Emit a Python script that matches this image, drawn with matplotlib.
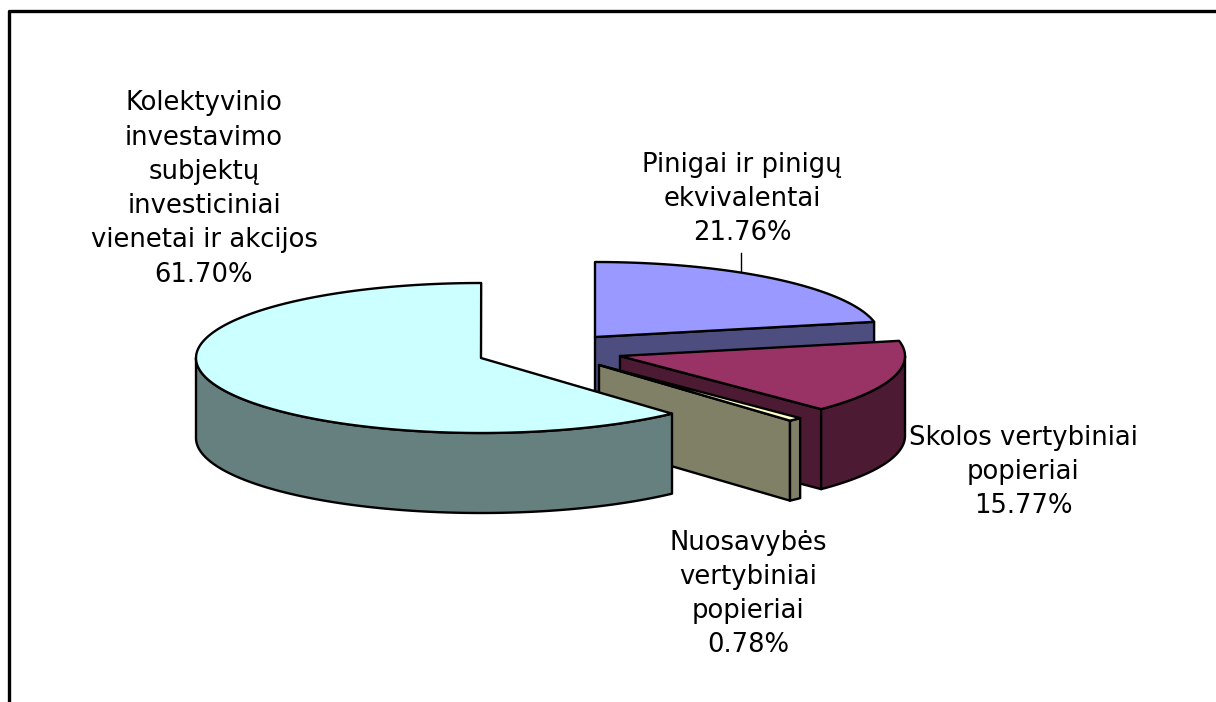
import numpy as np
import matplotlib
matplotlib.use("Agg")
from matplotlib import pyplot as plt
from matplotlib.patches import Polygon

# shares, clockwise from 12 o'clock
names = ["Pinigai ir pinigų\nekvivalentai", "Skolos vertybiniai\npopieriai",
         "Nuosavybės\nvertybiniai\npopieriai",
         "Kolektyvinio\ninvestavimo\nsubjektų\ninvesticiniai\nvienetai ir akcijos"]
shares = [21.76, 15.77, 0.78, 61.70]
top_colors = ["#9999ff", "#993366", "#ffffcc", "#ccffff"]
side_colors = ["#4d4d80", "#4d1a33", "#808066", "#668080"]
tips = [(595, 337), (620, 356), (599, 365), (481, 358)]
label_pos = [(742, 199), (1023, 472), (748, 594), (204, 189)]

RX, RY, DEPTH = 285, 75, 80
W, H = 1216, 702

fig = plt.figure(figsize=(W/100, H/100), dpi=100)
ax = fig.add_axes([0, 0, 1, 1])
ax.set_xlim(0, W)
ax.set_ylim(H, 0)
ax.axis("off")

# frame, only top and left are in the crop
ax.plot([9, 9, W], [H, 11, 11], color="black", lw=2.4, solid_capstyle="butt")


def rim(tip, a0, a1):
    t = np.radians(np.linspace(a0, a1, 200))
    return np.column_stack([tip[0] + RX*np.sin(t), tip[1] - RY*np.cos(t)])


def draw(poly, color, z):
    ax.add_patch(Polygon(poly, closed=True, fc=color, ec="black", lw=1.7, joinstyle="round", zorder=z))


ends = np.cumsum(shares)*3.6
starts = np.r_[0, ends[:-1]]
down = np.array([0, DEPTH])

for i in range(4):
    tip = np.array(tips[i], float)
    a0, a1 = starts[i], ends[i]
    z = 2 + 2*i
    pts = rim(tip, a0, a1)

    if i < 3:
        # cut face on the end side
        draw([tip, pts[-1], pts[-1]+down, tip+down], side_colors[i], z)
        # outer wall, front part only
        if a1 > 90:
            lo = rim(tip, max(a0, 90), a1)
            draw(np.vstack([lo, (lo+down)[::-1]]), side_colors[i], z+0.2)
    else:
        lo = rim(tip, a0, 270)
        draw(np.vstack([lo, (lo+down)[::-1]]), side_colors[i], z+0.2)
    draw(np.vstack([tip, pts]), top_colors[i], z+0.3)

# leader line of the first label
ax.plot([741, 741], [253, 272], color="black", lw=1.0, zorder=1)

for name, share, (x, y) in zip(names, shares, label_pos):
    ax.text(x, y, f"{name}\n{share:.2f}%", ha="center", va="center", fontsize=18.6,
            linespacing=1.41, color="black", family="DejaVu Sans", zorder=20)

fig.savefig("out.png", dpi=100)
